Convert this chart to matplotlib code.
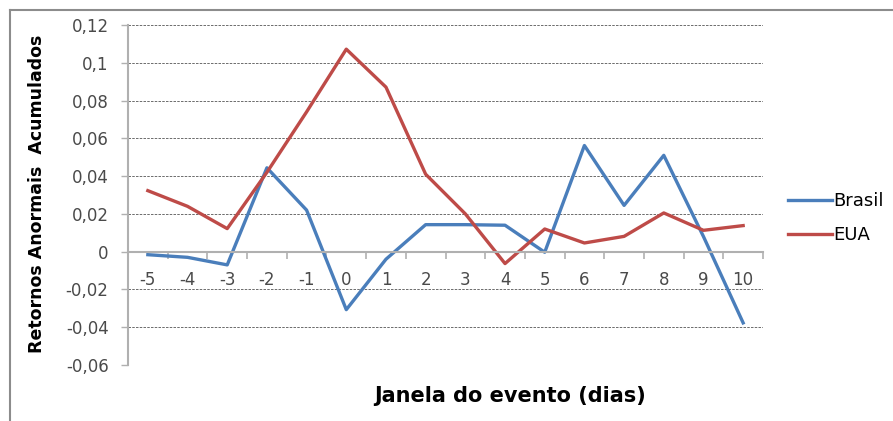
import matplotlib

matplotlib.use("Agg")
import matplotlib.pyplot as plt
from matplotlib.lines import Line2D

plt.rcParams["font.family"] = ["DejaVu Sans"]

# event window (days) and cumulative abnormal returns
dias = [-5, -4, -3, -2, -1, 0, 1, 2, 3, 4, 5, 6, 7, 8, 9, 10]
brasil = [-0.0016, -0.003, -0.007, 0.0444, 0.022, -0.0307, -0.004, 0.0143,
          0.0143, 0.014, -0.0003, 0.0562, 0.0245, 0.051, 0.008, -0.0377]
eua = [0.0323, 0.024, 0.0122, 0.042, 0.074, 0.1072, 0.0871, 0.041,
       0.02, -0.0063, 0.012, 0.0046, 0.0081, 0.0205, 0.0113, 0.0138]
y_ticks = [-0.06, -0.04, -0.02, 0, 0.02, 0.04, 0.06, 0.08, 0.1, 0.12]
y_labels = ["-0,06", "-0,04", "-0,02", "0", "0,02", "0,04", "0,06", "0,08", "0,1", "0,12"]

W, H = 893, 421
fig = plt.figure(figsize=(W / 100, H / 100), dpi=100)
fig.patch.set_facecolor("white")

# outer chart frame (cropped at right/bottom)
fig.add_artist(Line2D([10 / W, 10 / W], [0, 1 - 10 / H], transform=fig.transFigure,
                      color="#8c8c8c", lw=1.5))
fig.add_artist(Line2D([10 / W, 1], [1 - 10 / H, 1 - 10 / H], transform=fig.transFigure,
                      color="#8c8c8c", lw=1.5))

ax = fig.add_axes([128 / W, 1 - 365 / H, 635 / W, 340 / H])
ax.plot(dias, brasil, color="#4a7ebb", lw=2.4, label="Brasil")
ax.plot(dias, eua, color="#be4b48", lw=2.4, label="EUA")

ax.set_xlim(-5.5, 10.5)
ax.set_ylim(-0.06, 0.12)
ax.set_yticks(y_ticks)
ax.set_yticklabels(y_labels)
ax.yaxis.grid(True, color="#555555", linestyle=(0, (3, 1.5)), lw=0.6)
ax.set_axisbelow(True)

ax.set_xticks(dias)
ax.set_xticklabels([str(d) for d in dias])
ax.set_xticks([d - 0.5 for d in dias] + [10.5], minor=True)
ax.tick_params(axis="x", which="major", length=0, pad=14, labelsize=12, labelcolor="#4a4a4a")
ax.tick_params(axis="x", which="minor", length=5, color="#b0b0b0", width=1.2)
ax.tick_params(axis="y", length=5, color="#b0b0b0", width=1, pad=9, labelsize=12,
               labelcolor="#4a4a4a")

ax.spines["bottom"].set_position(("data", 0))
ax.spines["bottom"].set_color("#b0b0b0")
ax.spines["bottom"].set_linewidth(1.5)
ax.spines["left"].set_color("#b0b0b0")
ax.spines["left"].set_linewidth(1.5)
ax.spines["top"].set_visible(False)
ax.spines["right"].set_visible(False)

fig.text(37 / W, 1 - 194 / H, "Retornos Anormais  Acumulados", fontsize=12.5,
         fontweight="bold", rotation=90, ha="center", va="center")
fig.text(510 / W, 1 - 396 / H, "Janela do evento (dias)", fontsize=15, fontweight="bold",
         ha="center", va="center")

fig.legend(loc="center left", bbox_to_anchor=(772 / W, 1 - 218 / H), frameon=False,
           fontsize=13, handlelength=2.4, handletextpad=0.1, labelspacing=0.9)

fig.savefig("out.png", dpi=100)
